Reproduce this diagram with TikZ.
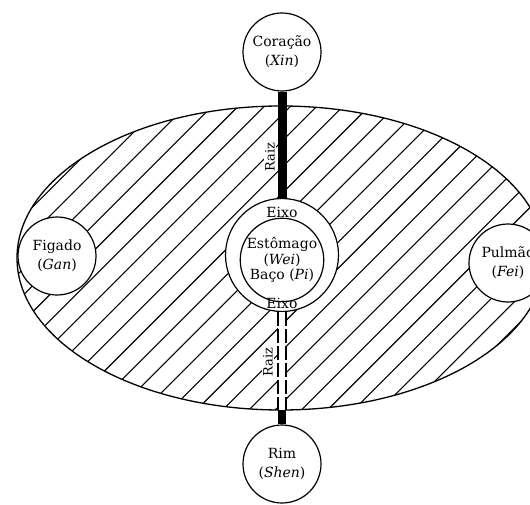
\documentclass[tikz,border=0pt]{standalone}
\usepackage{fontspec}
\setmainfont{DejaVu Serif}
\usetikzlibrary{calc}
\tikzset{
  organ/.style={circle, draw, fill=white, line width=1.2pt, minimum size=78pt, inner sep=0pt, align=center, font=\fontsize{14}{19}\selectfont},
  outerring/.style={circle, draw, fill=white, line width=1.2pt, minimum size=113pt, inner sep=0pt},
  innercore/.style={circle, draw, fill=white, line width=1.2pt, minimum size=77pt, inner sep=0pt, align=center, font=\fontsize{14}{15.5}\selectfont},
  hatch/.style={line width=1.1pt},
  rim/.style={line width=1.3pt},
  thickaxis/.style={line width=9pt},
  dashaxis/.style={line width=1.1pt, dash pattern=on 14pt off 3pt},
  rootlabel/.style={rotate=90, fill=white, inner sep=1pt, font=\fontsize{13}{13}\selectfont},
  axislabel/.style={inner sep=0pt, font=\fontsize{14}{14}\selectfont}
}
\begin{document}
\begin{tikzpicture}[x=1pt,y=1pt]
\useasboundingbox (0,0) rectangle (530,-505);
\clip (0,0) rectangle (530,-505);
% ellipse with hatching
\begin{scope}
  \clip (281,-258) ellipse [x radius=264, y radius=152];
  \foreach \i in {0,...,38} {
    \pgfmathsetmacro{\c}{-501.7+26.2*(\i-19)}
    \draw[hatch] (-50,{-50+\c}) -- (650,{650+\c});
  }
\end{scope}
\draw[rim] (281,-258) ellipse [x radius=264, y radius=152];
\coordinate (eb) at (282,-410);
% organs
\node[organ] (xin) at (282,-52) {Coração\\(\textit{Xin})};
\node[organ] (gan) at (57,-256) {Figado\\(\textit{Gan})};
\node[organ] (fei) at (508,-263) {Pulmão\\(\textit{Fei})};
\node[organ] (shen) at (282,-464) {Rim\\(\textit{Shen})};
\node[outerring] (mid) at (282,-255) {};
\node[innercore] (core) at (282,-260) {Estômago\\(\textit{Wei})\\Baço (\textit{Pi})};
% axis
\draw[thickaxis] (xin.south) -- (mid.north);
\fill[white] ([xshift=-4pt]mid.south) rectangle ([xshift=4pt]eb);
\draw[dashaxis] ([xshift=-4pt]mid.south) -- ([xshift=-4pt]eb);
\draw[dashaxis] ([xshift=4pt]mid.south) -- ([xshift=4pt]eb);
\draw[line width=8pt] (eb) -- (shen.north);
% labels
\node[rootlabel] (raiz1) at (270,-157) {Raiz};
\node[rootlabel] (raiz2) at (268,-362) {Raiz};
\node[axislabel] (eixo1) at (282,-212) {Eixo};
\node[axislabel] (eixo2) at (282,-303) {Eixo};
\end{tikzpicture}
\end{document}
